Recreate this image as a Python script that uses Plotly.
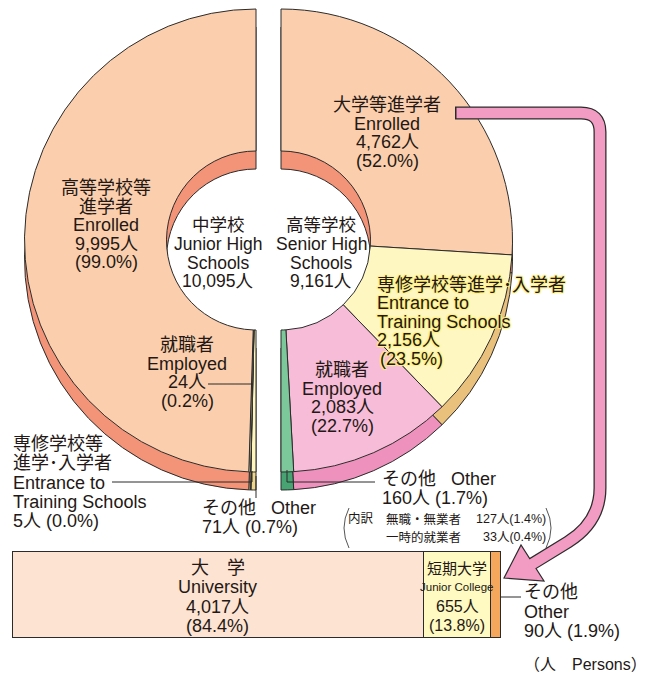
import plotly.graph_objects as go

# ---------------- data ----------------
jh_categories = ["高等学校等\n進学者", "就職者", "専修学校等\n進学･入学者", "その他"]
jh_categories_en = ["Enrolled", "Employed", "Entrance to\nTraining Schools", "Other"]
jh_values = [9995, 24, 5, 71]
jh_percent = [99.0, 0.2, 0.0, 0.7]
jh_name = ["中学校", "Junior High", "Schools"]
jh_total = 10095

sh_categories = ["大学等進学者", "専修学校等\n進学･入学者", "就職者", "その他"]
sh_categories_en = ["Enrolled", "Entrance to\nTraining Schools", "Employed", "Other"]
sh_values = [4762, 2156, 2083, 160]
sh_percent = [52.0, 23.5, 22.7, 1.7]
sh_name = ["高等学校", "Senior High", "Schools"]
sh_total = 9161

other_detail_categories = ["無職・無業者", "一時的就業者"]
other_detail_values = [127, 33]
other_detail_percent = [1.4, 0.4]

dest_categories = ["大　学", "短期大学", "その他"]
dest_categories_en = ["University", "Junior College", "Other"]
dest_values = [4017, 655, 90]
dest_percent = [84.4, 13.8, 1.9]

unit_label = "（人　Persons）"

# ---------------- style ----------------
W, H = 655, 675
FONT = "Liberation Sans, Noto Sans CJK JP, sans-serif"
TXT = "#231815"
EDGE = "#2b2b2b"
R = 231.5
HOLE = 89.5 / 231.5
DEPTH = 18
LEFT_C = (256, 240.5)
RIGHT_C = (281, 240.5)

jh_face = ["#FBCFAD", "#FFF6BE", "#FFF6BE", "#FFF6BE"]
jh_rim = ["#F39478", "#EDD58C", "#EDD58C", "#EDD58C"]
sh_face = ["#FBCFAD", "#FFF7C1", "#F7BDD8", "#7DC89B"]
sh_rim = ["#F39478", "#E9C17C", "#EE91BC", "#48A373"]
dest_colors = ["#FDE3D2", "#FFF9C2", "#F5A85C"]
ARROW = "#F29CC3"
FS = 18


def cnt(v):
    return f"{v:,}人"


def pct(p):
    return f"({p:.1f}%)"


fig = go.Figure()

# base pixel axis
fig.add_trace(go.Scatter(x=[0, W], y=[0, H], mode="markers",
                         marker=dict(opacity=0), hoverinfo="skip",
                         showlegend=False))


def half_pie(values, total, colors, center, side, dy=0):
    """Half ring: right side runs clockwise from 12 o'clock,
    left side runs clockwise from 6 o'clock (values reversed so the
    first category sits at the top)."""
    cx, cy = center
    cy = cy + dy
    vals = list(values)
    cols = list(colors)
    rotation = 0
    if side == "left":
        vals = vals[::-1]
        cols = cols[::-1]
        rotation = 180
    vals = vals + [total]
    cols = cols + ["rgba(0,0,0,0)"]
    widths = [1] * len(values) + [0]
    return go.Pie(values=vals, sort=False, direction="clockwise",
                  rotation=rotation, hole=HOLE, textinfo="none",
                  hoverinfo="skip", showlegend=False,
                  marker=dict(colors=cols, line=dict(color=EDGE, width=widths)),
                  domain=dict(x=[(cx - R) / W, (cx + R) / W],
                              y=[(H - cy - R) / H, (H - cy + R) / H]))


# rims (extrusion) first, then faces
fig.add_trace(half_pie(jh_values, jh_total, jh_rim, LEFT_C, "left", DEPTH))
fig.add_trace(half_pie(sh_values, sh_total, sh_rim, RIGHT_C, "right", DEPTH))
fig.add_trace(half_pie(jh_values, jh_total, jh_face, LEFT_C, "left"))
fig.add_trace(half_pie(sh_values, sh_total, sh_face, RIGHT_C, "right"))

# destination bar
for cat, v, col in zip(dest_categories, dest_values, dest_colors):
    fig.add_trace(go.Bar(x=[v], y=[0], orientation="h", width=1,
                         xaxis="x2", yaxis="y2", name=cat,
                         marker=dict(color=col, line=dict(color=EDGE, width=1)),
                         hoverinfo="skip", showlegend=False))

BAR_X0, BAR_X1, BAR_Y0, BAR_Y1 = 12, 500, 551, 637
PAD = 3  # px of room so the bar outline is not clipped
dest_total = sum(dest_values)
px_per_val = (BAR_X1 - BAR_X0) / dest_total
pad_val = PAD / px_per_val
pad_y = PAD / (BAR_Y1 - BAR_Y0)

ann = []


def label(x, y0, lines, size=FS, dy=18.6, anchor="center", xref="x",
          shadow=None, color=TXT, family=FONT):
    for i, t in enumerate(lines):
        f = dict(family=family, size=size, color=color)
        if shadow:
            f["shadow"] = shadow
        ann.append(dict(x=x, y=y0 + i * dy, xref=xref, yref="y", text=t,
                        showarrow=False, xanchor=anchor, yanchor="middle",
                        borderpad=0, borderwidth=0, font=f))


# left (junior high) labels
label(106, 188, jh_categories[0].split("\n") + [jh_categories_en[0], cnt(jh_values[0]), pct(jh_percent[0])])
label(187, 345, [jh_categories[1], jh_categories_en[1], cnt(jh_values[1]), pct(jh_percent[1])])
label(13, 444, jh_categories[2].split("\n") + jh_categories_en[2].split("\n") +
      [f"{cnt(jh_values[2])} {pct(jh_percent[2])}"], anchor="left", dy=19.3)
label(202, 508, [jh_categories[3]], anchor="left")
label(271, 508, [jh_categories_en[3]], anchor="left")
label(202, 526.5, [f"{cnt(jh_values[3])} {pct(jh_percent[3])}"], anchor="left")

# center names
label(218, 225, jh_name + [cnt(jh_total)], dy=18.8, size=17.5)
label(321, 225, sh_name + [cnt(sh_total)], dy=18.8, size=17.5)

# right (senior high) labels
label(387, 105, [sh_categories[0], sh_categories_en[0], cnt(sh_values[0]), pct(sh_percent[0])])
halo = "1px 1px 1px #FFEF80, -1px -1px 1px #FFEF80, 1px -1px 1px #FFEF80, -1px 1px 1px #FFEF80"
label(377, 284.5, [sh_categories[1].replace("\n", "")] + sh_categories_en[1].split("\n") +
      [cnt(sh_values[1])], anchor="left", shadow=halo)
label(380, 358.5, [pct(sh_percent[1])], anchor="left", shadow=halo)
label(342, 370, [sh_categories[2], sh_categories_en[2], cnt(sh_values[2]), pct(sh_percent[2])])
label(382, 479, [sh_categories[3]], anchor="left")
label(451, 479, [sh_categories_en[3]], anchor="left")
label(382, 497.5, [f"{cnt(sh_values[3])} {pct(sh_percent[3])}"], anchor="left")

# breakdown of "other"
label(348, 519, ["内訳"], size=12.5, anchor="left")
for i, (c, v, p) in enumerate(zip(other_detail_categories, other_detail_values, other_detail_percent)):
    y = 519 + i * 18
    label(386, y, [c], size=12.5, anchor="left")
    label(546, y, [f"{v}人({p:.1f}%)"], size=12.5, anchor="right")

# destination bar labels (positioned via the bar axis)
cum = 0
bar_mid = []
for v in dest_values:
    bar_mid.append(cum + v / 2)
    cum += v
label(bar_mid[0], 568, [dest_categories[0], dest_categories_en[0], cnt(dest_values[0]), pct(dest_percent[0])],
      xref="x2", dy=19.3)
label(bar_mid[1], 568, [dest_categories[1]], xref="x2", size=15)
label(bar_mid[1], 587, [dest_categories_en[1]], xref="x2", size=11.5)
label(bar_mid[1], 606.5, [cnt(dest_values[1]), pct(dest_percent[1])], xref="x2", size=16, dy=19.2)
label(524, 592, [dest_categories[2], dest_categories_en[2], f"{cnt(dest_values[2])} {pct(dest_percent[2])}"],
      anchor="left", dy=19.5)
label(647, 664, [unit_label], anchor="right", size=16)

# ---------------- shapes ----------------
shapes = []


def line_path(path, color=EDGE, width=1):
    shapes.append(dict(type="path", path=path, xref="x", yref="y",
                       line=dict(color=color, width=width),
                       fillcolor="rgba(0,0,0,0)"))


# leader lines
line_path("M 208 384 L 253 384")
line_path("M 112 482 L 252 482 L 252 471")
line_path("M 256 476 L 256 498")
line_path("M 375 482 L 287 482 L 287 470")
line_path("M 500 597 L 521 597")

# thin brackets around the breakdown
line_path("M 349 508 Q 339 528 349 548", color="#555", width=1)
line_path("M 546 508 Q 556 528 546 548", color="#555", width=1)

# pink arrow
shaft = "M 455 113 L 581 113 Q 600 113 600 132 L 600 488 Q 600 522 568 542 L 532 564"
line_path(shaft, color=EDGE, width=13)
shapes.append(dict(type="path", path="M 504 578 L 521 545 L 544 581 Z", xref="x", yref="y",
                   fillcolor=ARROW, line=dict(color=EDGE, width=1.2)))
line_path("M 456.5 113 L 581 113 Q 600 113 600 132 L 600 488 Q 600 522 568 542 L 529 566",
          color=ARROW, width=10.5)

fig.update_layout(
    width=W, height=H, margin=dict(l=0, r=0, t=0, b=0),
    paper_bgcolor="white", plot_bgcolor="rgba(0,0,0,0)",
    barmode="stack", showlegend=False,
    xaxis=dict(range=[0, W], visible=False, domain=[0, 1], fixedrange=True),
    yaxis=dict(range=[H, 0], visible=False, domain=[0, 1], fixedrange=True),
    xaxis2=dict(range=[-pad_val, dest_total + pad_val], visible=False, anchor="y2",
                domain=[(BAR_X0 - PAD) / W, (BAR_X1 + PAD) / W], fixedrange=True),
    yaxis2=dict(range=[-0.5 - pad_y, 0.5 + pad_y], visible=False, anchor="x2",
                domain=[(H - BAR_Y1 - PAD) / H, (H - BAR_Y0 + PAD) / H], fixedrange=True),
    annotations=ann, shapes=shapes,
    font=dict(family=FONT, color=TXT),
)

fig.write_html("out.html", config={"displayModeBar": False},
               post_script="document.body.style.margin='0';document.body.style.overflow='hidden';")
